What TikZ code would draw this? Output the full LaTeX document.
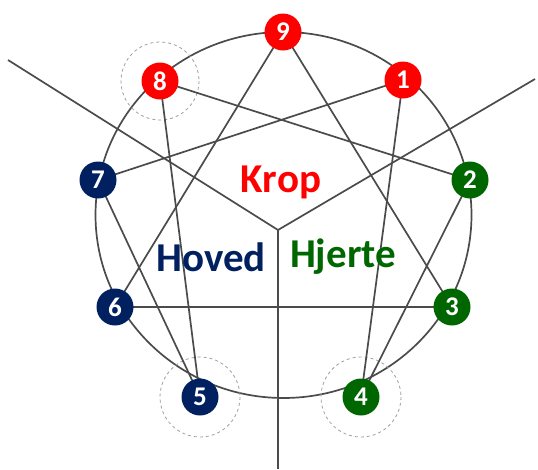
\documentclass[tikz,border=0pt]{standalone}
\usepackage{fontspec}
\setmainfont{Carlito}
\definecolor{ered}{RGB}{255,0,0}
\definecolor{eblue}{RGB}{0,32,96}
\definecolor{egreen}{RGB}{0,102,0}
\definecolor{eline}{RGB}{75,75,75}
\begin{document}
\begin{tikzpicture}[x=1pt,y=-1pt,
  pt/.style={circle,fill=#1,minimum size=37pt,inner sep=0pt,text=white,font=\fontsize{27}{27}\selectfont\bfseries},
  ln/.style={draw=eline,line width=1.7pt},
  ring/.style={draw=gray!75,dashed,line width=0.8pt},
  lbl/.style={font=\fontsize{41}{41}\selectfont\bfseries,text=#1}]
\useasboundingbox (0,0) rectangle (538,469);
% big circle
\draw[ln] (283.5,215) ellipse [x radius=188, y radius=183];
% coordinates of points
\coordinate (c9) at (283,32);
\coordinate (c1) at (403,80);
\coordinate (c2) at (470,180);
\coordinate (c3) at (452,307);
\coordinate (c4) at (361,397);
\coordinate (c5) at (200,397);
\coordinate (c6) at (115,307);
\coordinate (c7) at (98,180);
\coordinate (c8) at (160,81);
% dashed rings
\draw[ring] (c8) circle[radius=39];
\draw[ring] (c5) circle[radius=40];
\draw[ring] (c4) circle[radius=40];
% divider lines
\coordinate (jn) at (278,230);
\coordinate (tl) at (8,60);
\coordinate (tr) at (535,79);
\coordinate (bt) at (278,469);
\draw[ln] (tl) -- (jn) -- (tr);
\draw[ln] (jn) -- (bt);
% enneagram lines
\draw[ln] (c9) -- (c3) -- (c6) -- cycle;
\draw[ln] (c1) -- (c4) -- (c2) -- (c8) -- (c5) -- (c7) -- cycle;
% nodes
\node[pt=ered] (n9) at (c9) {9};
\node[pt=ered] (n1) at (c1) {1};
\node[pt=ered] (n8) at (c8) {8};
\node[pt=egreen] (n2) at (c2) {2};
\node[pt=egreen] (n3) at (c3) {3};
\node[pt=egreen] (n4) at (c4) {4};
\node[pt=eblue] (n5) at (c5) {5};
\node[pt=eblue] (n6) at (c6) {6};
\node[pt=eblue] (n7) at (c7) {7};
% labels
\node[lbl=ered] (krop) at (281,182) {Krop};
\node[lbl=eblue] (hoved) at (211,257) {Hoved};
\node[lbl=egreen] (hjerte) at (343,257) {Hjerte};
\end{tikzpicture}
\end{document}
